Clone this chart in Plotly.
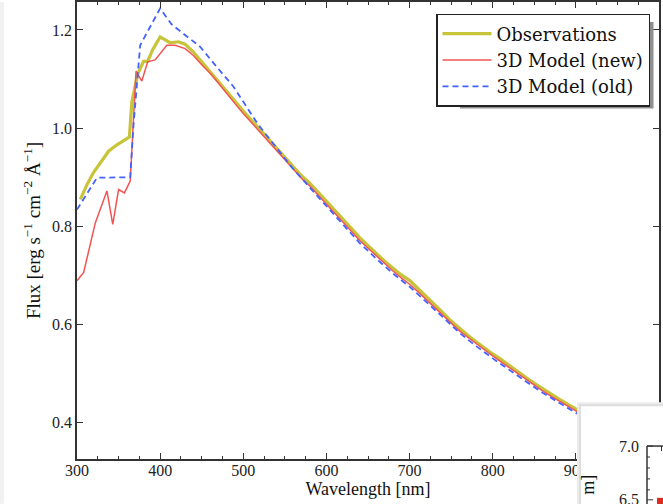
import plotly.graph_objects as go

# ---------------- data ----------------
obs_wl = [304, 312, 320, 330, 338, 348, 363, 366, 369, 373, 380, 385, 391, 400, 412, 422, 430,
          440, 450, 460, 470, 480, 490, 500, 510, 520, 530, 540, 550, 560, 570, 580, 590,
          600, 610, 620, 630, 640, 650, 660, 670, 680, 690, 700, 710, 720, 730, 740, 750,
          760, 770, 780, 790, 800, 810, 820, 830, 840, 850, 860, 870, 880, 890, 900,
          920, 940, 960, 980, 1000]
obs_flux = [0.855, 0.885, 0.910, 0.935, 0.953, 0.966, 0.982, 1.054, 1.081, 1.110, 1.136, 1.136, 1.160, 1.186, 1.174, 1.176, 1.171,
            1.155, 1.135, 1.115, 1.094, 1.073, 1.054, 1.035, 1.016, 0.997, 0.978, 0.958, 0.939, 0.920, 0.903, 0.888, 0.870,
            0.852, 0.833, 0.814, 0.796, 0.777, 0.760, 0.745, 0.729, 0.715, 0.701, 0.690, 0.674, 0.657, 0.641, 0.624, 0.607,
            0.592, 0.578, 0.565, 0.552, 0.540, 0.529, 0.516, 0.504, 0.492, 0.480, 0.469, 0.458, 0.448, 0.438, 0.428,
            0.410, 0.392, 0.375, 0.360, 0.345]

new_wl = [300, 308, 322, 336, 343, 350, 357, 364, 371, 378, 385, 394, 408, 418, 430,
          440, 450, 460, 470, 480, 490, 500, 510, 520, 530, 540, 550, 560, 570, 580, 590,
          600, 610, 620, 630, 640, 650, 660, 670, 680, 690, 700, 710, 720, 730, 740, 750,
          760, 770, 780, 790, 800, 810, 820, 830, 840, 850, 860, 870, 880, 890, 900,
          920, 940, 960, 980, 1000]
new_flux = [0.689, 0.706, 0.807, 0.872, 0.804, 0.875, 0.868, 0.892, 1.116, 1.096, 1.135, 1.139, 1.169, 1.169, 1.162,
            1.148, 1.129, 1.112, 1.092, 1.070, 1.050, 1.030, 1.011, 0.992, 0.973, 0.953, 0.934, 0.915, 0.898, 0.882, 0.864,
            0.846, 0.827, 0.808, 0.790, 0.771, 0.755, 0.739, 0.723, 0.709, 0.695, 0.682, 0.667, 0.651, 0.635, 0.619, 0.602,
            0.587, 0.574, 0.561, 0.548, 0.536, 0.524, 0.512, 0.500, 0.488, 0.476, 0.465, 0.454, 0.444, 0.434, 0.424,
            0.406, 0.388, 0.372, 0.357, 0.342]

old_wl = [300, 324, 364, 368, 376, 400, 414, 430, 448, 466, 488, 518, 540, 560, 580,
          600, 620, 640, 660, 680, 700, 720, 740, 760, 780, 800, 820, 840, 860, 880, 900,
          920, 940, 960, 980, 1000]
old_flux = [0.834, 0.899, 0.900, 1.007, 1.169, 1.244, 1.211, 1.189, 1.166, 1.129, 1.085, 1.007, 0.960, 0.917, 0.879,
            0.842, 0.803, 0.766, 0.734, 0.704, 0.677, 0.647, 0.615, 0.583, 0.556, 0.531, 0.507, 0.484, 0.461, 0.441, 0.420,
            0.402, 0.384, 0.368, 0.353, 0.338]

x_ticks = [300, 400, 500, 600, 700, 800, 900, 1000]
y_ticks = [0.4, 0.6, 0.8, 1.0, 1.2]
y_ticklabels = ["0.4", "0.6", "0.8", "1.0", "1.2"]

# ---------------- figure ----------------
W, H = 663, 504
ML, MR, MT, MB = 77, 4, 0, 45
PW, PH = W - ML - MR, H - MT - MB
SERIF = "Liberation Serif"
AX = "#333333"


def px(x):
    return (x - ML) / PW


def py(y):
    return (H - MB - y) / PH


fig = go.Figure()
fig.add_trace(go.Scatter(x=obs_wl, y=obs_flux, mode="lines", name="Observations",
                         line=dict(color="#c8c43a", width=3.2)))
fig.add_trace(go.Scatter(x=new_wl, y=new_flux, mode="lines", name="3D Model (new)",
                         line=dict(color="#f25454", width=1.5)))
fig.add_trace(go.Scatter(x=old_wl, y=old_flux, mode="lines", name="3D Model (old)",
                         line=dict(color="#4262ff", width=1.8, dash="6px,4px")))

fig.update_layout(
    width=W, height=H,
    margin=dict(l=ML, r=MR, t=MT, b=MB),
    paper_bgcolor="white", plot_bgcolor="white",
    font=dict(family=SERIF, color="#111"),
    legend=dict(x=px(650), y=py(12), xanchor="right", yanchor="top",
                bgcolor="white", bordercolor="#222", borderwidth=1.5,
                font=dict(family="DejaVu Serif", size=18, color="#111"),
                itemwidth=49, tracegroupgap=0),
    xaxis=dict(range=[300, 1000], tickvals=x_ticks, ticks="inside", ticklen=6, tickwidth=1,
               tickcolor=AX, showline=True, linecolor=AX, linewidth=1.5, mirror="ticks",
               showgrid=False, zeroline=False, ticklabelstandoff=-4,
               minor=dict(dtick=25, tick0=300, ticks="inside", ticklen=3, tickcolor=AX, showgrid=False),
               tickfont=dict(family=SERIF, size=16, color="#222"),
               title=dict(text="Wavelength [nm]", font=dict(family=SERIF, size=18, color="#111"), standoff=4)),
    yaxis=dict(range=[0.326, 1.257], tickvals=y_ticks, ticktext=y_ticklabels, ticks="inside",
               ticklen=6, tickwidth=1, tickcolor=AX, showline=True, linecolor=AX, linewidth=1.5,
               mirror="ticks", showgrid=False, zeroline=False,
               tickfont=dict(family=SERIF, size=16, color="#222"),
               title=dict(text="Flux [erg s<sup>\u22121</sup> cm<sup>\u22122</sup> \u00c5<sup>\u22121</sup>]",
                          font=dict(family=SERIF, size=19, color="#111"), standoff=6)),
)

shapes = []
# page edge strip on the left
shapes.append(dict(type="rect", xref="paper", yref="paper", x0=px(0), x1=px(4), y0=py(504), y1=py(0),
                   fillcolor="#f1f1f1", line=dict(width=0), layer="above"))
# legend drop shadow
shapes.append(dict(type="rect", xref="paper", yref="paper", x0=px(460), x1=px(653.5), y0=py(107), y1=py(20),
                   fillcolor="#8f8f8f", line=dict(width=0), layer="above"))
# inset figure (another panel overlapping bottom right)
shapes.append(dict(type="rect", xref="paper", yref="paper", x0=px(577), x1=px(664), y0=py(505), y1=py(402),
                   fillcolor="#ececec", line=dict(width=0), layer="above"))
shapes.append(dict(type="rect", xref="paper", yref="paper", x0=px(579), x1=px(664), y0=py(505), y1=py(404),
                   fillcolor="#dddddd", line=dict(width=0), layer="above"))
shapes.append(dict(type="rect", xref="paper", yref="paper", x0=px(581), x1=px(664), y0=py(505), y1=py(406),
                   fillcolor="white", line=dict(width=0), layer="above"))
shapes.append(dict(type="line", xref="paper", yref="paper", x0=px(647), x1=px(647), y0=py(446), y1=py(505),
                   line=dict(color=AX, width=1.5), layer="above"))
shapes.append(dict(type="line", xref="paper", yref="paper", x0=px(647), x1=px(664), y0=py(446), y1=py(446),
                   line=dict(color=AX, width=1.5), layer="above"))
for ty, tl in [(446, 6), (457, 3), (468, 3), (479, 3), (490, 3), (500, 6)]:
    shapes.append(dict(type="line", xref="paper", yref="paper", x0=px(647), x1=px(647 + tl), y0=py(ty), y1=py(ty),
                       line=dict(color=AX, width=1), layer="above"))
shapes.append(dict(type="line", xref="paper", yref="paper", x0=px(661.5), x1=px(661.5), y0=py(446), y1=py(451),
                   line=dict(color=AX, width=1), layer="above"))
shapes.append(dict(type="rect", xref="paper", yref="paper", x0=px(657), x1=px(664), y0=py(505), y1=py(498),
                   fillcolor="#dd2a22", line=dict(width=0), layer="above"))
fig.update_layout(shapes=shapes)

annotations = [
    dict(text="7.0", xref="paper", yref="paper", x=px(641), y=py(446), xanchor="right", yanchor="middle",
         showarrow=False, font=dict(family=SERIF, size=16, color="#222")),
    dict(text="6.5", xref="paper", yref="paper", x=px(641), y=py(500), xanchor="right", yanchor="middle",
         showarrow=False, font=dict(family=SERIF, size=16, color="#222")),
    dict(text="m]", xref="paper", yref="paper", x=px(600), y=py(497), textangle=-90,
         showarrow=False, font=dict(family=SERIF, size=18, color="#111")),
]
fig.update_layout(annotations=annotations)

fig.write_html("out.html")
